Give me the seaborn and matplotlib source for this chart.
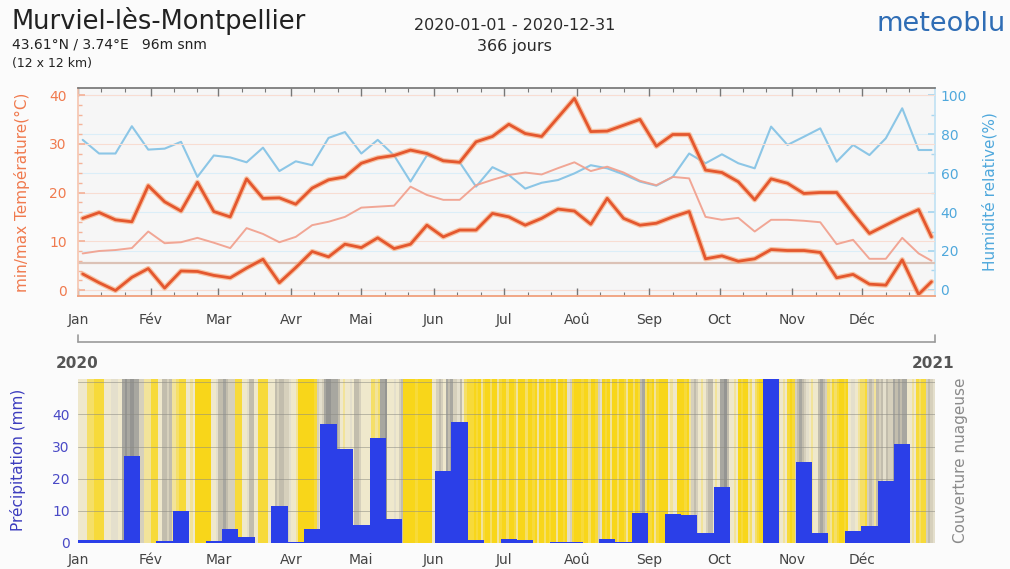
import matplotlib

matplotlib.use("Agg")
import matplotlib.pyplot as plt
import numpy as np
import pandas as pd
import seaborn as sns
from matplotlib.colors import ListedColormap
from matplotlib.lines import Line2D
from matplotlib.ticker import FixedLocator, MultipleLocator

sns.set_theme(style="white")
plt.rcParams["font.family"] = ["DejaVu Sans"]

# --- data (2020, weekly aggregates) ---
MONTHS = ["Jan", "Fév", "Mar", "Avr", "Mai", "Jun", "Jul", "Aoû", "Sep", "Oct", "Nov", "Déc"]

# day-of-year of each weekly point (first and last weeks are partial)
week_day = np.r_[np.arange(2, 360, 7), 364.5]

tmax_c = [14.7, 15.9, 14.4, 14.0, 21.4, 18.1, 16.2, 22.1, 16.1, 15.0, 22.8, 18.8, 18.9,
          17.6, 20.9, 22.6, 23.2, 26.0, 27.1, 27.6, 28.7, 28.0, 26.5, 26.2, 30.4, 31.5,
          34.0, 32.1, 31.5, 35.4, 39.3, 32.5, 32.6, 33.8, 35.0, 29.5, 31.9, 31.9, 24.6,
          24.1, 22.2, 18.5, 22.8, 21.9, 19.8, 20.0, 20.0, 15.7, 11.6, 13.3, 15.0, 16.5, 10.9]
tmin_c = [3.3, 1.5, -0.1, 2.6, 4.4, 0.4, 3.9, 3.8, 3.0, 2.5, 4.5, 6.3, 1.5,
          4.6, 7.9, 6.8, 9.4, 8.7, 10.7, 8.5, 9.4, 13.3, 10.9, 12.3, 12.3, 15.7,
          15.0, 13.3, 14.7, 16.6, 16.2, 13.5, 18.8, 14.7, 13.3, 13.7, 15.0, 16.1, 6.4,
          7.0, 5.9, 6.4, 8.3, 8.1, 8.1, 7.7, 2.5, 3.2, 1.2, 1.0, 6.2, -0.9, 1.7]
tmean_c = [7.5, 8.0, 8.2, 8.6, 12.0, 9.6, 9.8, 10.7, 9.7, 8.6, 12.7, 11.5, 9.8,
           10.9, 13.3, 14.0, 15.0, 16.9, 17.1, 17.3, 21.2, 19.5, 18.5, 18.5, 21.5, 22.6,
           23.6, 24.1, 23.7, 25.0, 26.2, 24.4, 25.3, 24.1, 22.4, 21.5, 23.2, 22.9, 15.0,
           14.4, 14.8, 12.0, 14.4, 14.4, 14.2, 13.9, 9.4, 10.3, 6.4, 6.4, 10.7, 7.5, 6.0]
humidity_pct = [77, 70, 70, 84, 72, 72.5, 76, 58, 69, 68, 65.5, 73, 61,
                66, 64, 78, 81, 70, 77, 69, 55.6, 69, 66.7, 65.5, 53, 63,
                59, 52, 55, 56.4, 59.8, 64, 62.4, 59.3, 55.6, 53.5, 58, 70, 65,
                69.6, 65, 62.4, 83.8, 74.4, 78.6, 82.9, 65.8, 74.4, 69.2, 77.8, 93.2, 71.8, 71.8]
precip_mm = [1.0, 1.0, 1.0, 27.0, 0.0, 0.7, 10.0, 0.0, 0.7, 4.2, 2.0, 0.0, 11.5,
             0.4, 4.2, 37.0, 29.3, 5.6, 32.6, 7.5, 0.0, 0.0, 22.3, 37.6, 0.8, 0.1,
             1.2, 0.9, 0.1, 0.4, 0.4, 0.0, 1.1, 0.4, 9.2, 0.0, 8.9, 8.7, 3.0,
             17.5, 0.0, 0.0, 52.0, 0.0, 25.2, 3.0, 0.0, 3.8, 5.3, 19.3, 30.9, 0.0, 0.0]
ref_temp_c = 5.5

# daily cloud cover, 0 = clear .. 9 = overcast, one string per month
cloud_by_month = [
    "4444222111144455544898998866333",
    "11144776733211144340000000445",
    "7787666111445774411114447677665",
    "443000000016568998887434454776",
    "4444223288944454670000010000004",
    "467648786657421110103100200310",
    "0200130002001030020100300105610",
    "0010020016501030020013002017820",
    "103100004344000103676434677434",
    "8897443401003242100444544343410",
    "167876543447876231210010455432",
    "2167637675766878788443412116765",
]
CLOUD_COLORS = ["#f8d61a", "#f7da3a", "#f5df68", "#f2e39a", "#efe8cc",
                "#e4dfcc", "#d6d0bc", "#c2bdad", "#a8a7a0", "#959592"]

# --- derived helpers ---
month_start = (pd.date_range("2020-01-01", "2020-12-01", freq="MS").dayofyear - 1).to_numpy()
dec_ticks = np.sort(np.r_[month_start + 10, month_start + 20])
week_edges = [0.0] + [5.5 + 7 * i for i in range(52)] + [366.0]
cloud_levels = np.array([int(c) for c in "".join(cloud_by_month)], dtype=float)
precip_df = pd.DataFrame({"day": week_day, "mm": precip_mm})

W, H = 1010, 569
fig = plt.figure(figsize=(W / 100, H / 100), dpi=100, facecolor="#fbfbfb")


def fx(px):
    return px / W


def fy(py):
    return 1 - py / H


T_COL = "#e4572e"
T_LBL = "#f07a4e"
H_COL = "#8cc6e6"
H_LBL = "#4fa8dc"
P_COL = "#2b3fe8"
P_LBL = "#4a4ac6"

# --- top panel: temperatures + relative humidity ---
ax_t = fig.add_axes([fx(78), fy(296), fx(857), 208 / H])
ax_h = ax_t.twinx()
ax_t.set_zorder(ax_h.get_zorder() + 1)
ax_t.patch.set_visible(False)
ax_h.patch.set_visible(True)
ax_h.set_facecolor("#f6f6f6")

for v in range(0, 101, 20):
    ax_h.axhline(v, color="#dbeef8", lw=0.8, zorder=0)
for v in range(0, 41, 10):
    ax_t.axhline(v, color="#f8ddd2", lw=0.8, zorder=0)
ax_t.axhline(ref_temp_c, color="#dcc2b6", lw=1.6, zorder=1)

sns.lineplot(x=week_day, y=humidity_pct, ax=ax_h, color=H_COL, lw=1.5)
sns.lineplot(x=week_day, y=tmean_c, ax=ax_t, color="#f1a290", lw=1.4, alpha=0.95)
for series in (tmax_c, tmin_c):
    sns.lineplot(x=week_day, y=series, ax=ax_t, color="#f8a878", lw=3.8, alpha=0.65)
    sns.lineplot(x=week_day, y=series, ax=ax_t, color=T_COL, lw=2.0)

ax_t.set_xlim(0, 366)
ax_t.set_ylim(-1.23, 41.44)
ax_h.set_ylim(-3.08, 103.6)
ax_t.set_xlabel("")
ax_t.set_ylabel("")
ax_h.set_ylabel("")

ax_t.xaxis.set_major_locator(FixedLocator(month_start))
ax_t.xaxis.set_minor_locator(FixedLocator(dec_ticks))
ax_t.set_xticklabels(MONTHS)
ax_t.tick_params(axis="x", which="both", top=True, bottom=True, direction="in",
                 color="#777777", labelcolor="#444444", labelsize=10, pad=12)
ax_t.tick_params(axis="x", which="major", length=6, width=1)
ax_t.tick_params(axis="x", which="minor", length=3, width=0.8)

ax_t.set_yticks([0, 10, 20, 30, 40])
ax_t.yaxis.set_minor_locator(MultipleLocator(2))
ax_t.tick_params(axis="y", which="both", left=True, direction="in", color="#f4b39a",
                 labelcolor=T_LBL, labelsize=10, pad=8)
ax_t.tick_params(axis="y", which="major", length=5)
ax_t.tick_params(axis="y", which="minor", length=3)

ax_h.set_yticks([0, 20, 40, 60, 80, 100])
ax_h.yaxis.set_minor_locator(MultipleLocator(10))
ax_h.tick_params(axis="y", which="both", right=True, direction="in", color="#a9d6ef",
                 labelcolor=H_LBL, labelsize=10, pad=4)
ax_h.tick_params(axis="y", which="major", length=5)
ax_h.tick_params(axis="y", which="minor", length=3)

for name, sp in ax_t.spines.items():
    sp.set_visible(name in ("top", "bottom", "left"))
ax_t.spines["top"].set_color("#777777")
ax_t.spines["bottom"].set_color("#f0a07c")
ax_t.spines["bottom"].set_linewidth(1.3)
ax_t.spines["left"].set_color("#f6c7b2")
for name, sp in ax_h.spines.items():
    sp.set_visible(name == "right")
ax_h.spines["right"].set_color("#c2e2f3")

fig.text(fx(22), fy(192), "min/max Température(°C)", rotation=90, ha="center",
         va="center", color=T_LBL, fontsize=11)
fig.text(fx(990), fy(192), "Humidité relative(%)", rotation=90, ha="center",
         va="center", color=H_LBL, fontsize=11)

# --- year timeline between panels ---
tl_y = fy(342)
fig.add_artist(Line2D([fx(78), fx(935)], [tl_y, tl_y], transform=fig.transFigure,
                      color="#9a9a9a", lw=1.2))
for px in (78, 935):
    fig.add_artist(Line2D([fx(px), fx(px)], [tl_y, fy(335)], transform=fig.transFigure,
                          color="#9a9a9a", lw=1.2))
fig.text(fx(77), fy(364), "2020", ha="center", va="center", fontsize=11,
         fontweight="bold", color="#555555")
fig.text(fx(933), fy(364), "2021", ha="center", va="center", fontsize=11,
         fontweight="bold", color="#555555")

# --- bottom panel: precipitation over daily cloud cover ---
ax_b = fig.add_axes([fx(78), fy(543), fx(857), 164 / H])
ax_b.imshow(cloud_levels[None, :], cmap=ListedColormap(CLOUD_COLORS), vmin=-0.5,
            vmax=9.5, aspect="auto", extent=(0, 366, 0, 51), interpolation="nearest",
            zorder=0)
for v in range(10, 51, 10):
    ax_b.axhline(v, color="#8c8c84", lw=0.7, alpha=0.55, zorder=1)
sns.histplot(data=precip_df, x="day", weights="mm", bins=week_edges, ax=ax_b,
             color=P_COL, alpha=1, linewidth=0, zorder=2)
ax_b.set_xlim(0, 366)
ax_b.set_ylim(0, 51)
ax_b.set_xlabel("")
ax_b.set_ylabel("")
ax_b.xaxis.set_major_locator(FixedLocator(month_start))
ax_b.set_xticklabels(MONTHS)
ax_b.tick_params(axis="x", length=0, labelcolor="#444444", labelsize=10, pad=7)
ax_b.set_yticks([0, 10, 20, 30, 40])
ax_b.tick_params(axis="y", length=0, labelcolor=P_LBL, labelsize=10, pad=6)
for sp in ax_b.spines.values():
    sp.set_visible(False)

fig.text(fx(18), fy(460), "Précipitation (mm)", rotation=90, ha="center", va="center",
         color="#3c3cbe", fontsize=11)
fig.text(fx(961), fy(460), "Couverture nuageuse", rotation=90, ha="center",
         va="center", color="#8a8a8a", fontsize=11)

# --- header ---
fig.text(fx(12), fy(21), "Murviel-lès-Montpellier", ha="left", va="center",
         fontsize=18.5, color="#222222")
fig.text(fx(12), fy(44), "43.61°N / 3.74°E   96m snm", ha="left", va="center",
         fontsize=10, color="#222222")
fig.text(fx(12), fy(63), "(12 x 12 km)", ha="left", va="center", fontsize=9,
         color="#222222")
fig.text(fx(515), fy(25), "2020-01-01 - 2020-12-31", ha="center", va="center",
         fontsize=11.5, color="#2a2a2a")
fig.text(fx(514), fy(47), "366 jours", ha="center", va="center", fontsize=11.5,
         color="#2a2a2a")
fig.text(fx(1006), fy(24), "meteoblu", ha="right", va="center", fontsize=19.5,
         color="#2f6db5")

fig.savefig("out.png", dpi=100, facecolor=fig.get_facecolor())
